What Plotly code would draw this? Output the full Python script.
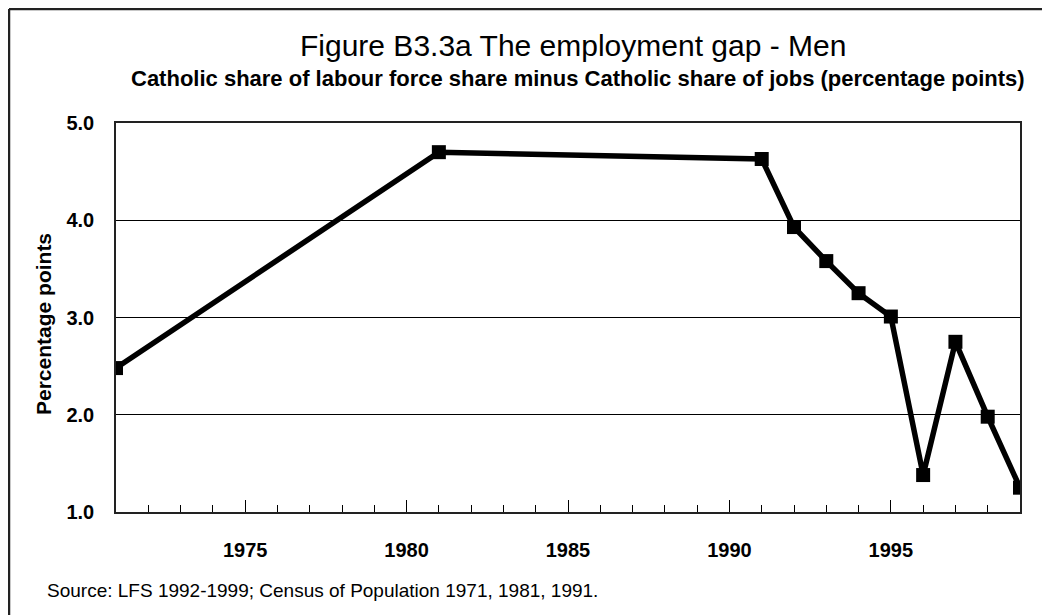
import plotly.graph_objects as go

years = [1971, 1981, 1991, 1992, 1993, 1994, 1995, 1996, 1997, 1998, 1999]
gap = [2.48, 4.70, 4.63, 3.93, 3.58, 3.25, 3.01, 1.38, 2.75, 1.98, 1.25]
y_ticks = [1.0, 2.0, 3.0, 4.0, 5.0]
x_ticks = [1975, 1980, 1985, 1990, 1995]

title = "Figure B3.3a The employment gap - Men"
subtitle = "Catholic share of labour force share minus Catholic share of jobs (percentage points)"
y_title = "Percentage points"
source = "Source: LFS 1992-1999; Census of Population 1971, 1981, 1991."

FONT = "Liberation Sans, Arial, sans-serif"
OFF = 8  # page body margin
W, H = 1042, 607
# plot area in page coordinates: x 116..1020, y 123..512
L, T = 116 - OFF, 123 - OFF
R = W - (1020 - OFF)
B = H - (512 - OFF)
PW, PH = W - L - R, H - T - B


def px(x):
    return (x - OFF - L) / PW


def py(y):
    return (H - B - (y - OFF)) / PH


fig = go.Figure()
fig.add_trace(go.Scatter(
    x=years, y=gap, mode="lines+markers",
    line=dict(color="black", width=5.5),
    marker=dict(symbol="square", size=14, color="black"),
    showlegend=False, hoverinfo="x+y",
))

fig.update_layout(
    width=W, height=H,
    margin=dict(l=L, r=R, t=T, b=B),
    paper_bgcolor="white", plot_bgcolor="white",
    font=dict(family=FONT, color="black"),
    xaxis=dict(
        range=[1971, 1999], tickmode="array", tickvals=x_ticks,
        ticks="inside", ticklen=12, tickwidth=1, tickcolor="black",
        minor=dict(dtick=1, tick0=1971, ticks="inside", ticklen=7, tickcolor="black", tickwidth=1, showgrid=False),
        showgrid=False, zeroline=False,
        showline=True, linecolor="#222", linewidth=1.5, mirror=True,
        tickfont=dict(family=FONT, size=20, color="black", weight="bold"),
        ticklabelstandoff=19,
    ),
    yaxis=dict(
        range=[1, 5], tickmode="array", tickvals=y_ticks, tickformat=".1f",
        ticks="", showgrid=True, gridcolor="black", gridwidth=1,
        zeroline=False,
        showline=True, linecolor="#222", linewidth=1.5, mirror=True,
        tickfont=dict(family=FONT, size=20, color="black", weight="bold"),
        ticklabelstandoff=16,
    ),
    annotations=[
        dict(text=title, x=px(573), y=py(45), xref="paper", yref="paper",
             showarrow=False, xanchor="center", yanchor="middle",
             font=dict(family=FONT, size=30, color="black")),
        dict(text="<b>" + subtitle + "</b>", x=px(578), y=py(78), xref="paper", yref="paper",
             showarrow=False, xanchor="center", yanchor="middle",
             font=dict(family=FONT, size=22, color="black")),
        dict(text="<b>" + y_title + "</b>", x=px(43), y=py(324), xref="paper", yref="paper",
             showarrow=False, xanchor="center", yanchor="middle", textangle=-90,
             font=dict(family=FONT, size=21, color="black")),
        dict(text=source, x=px(45), y=py(590), xref="paper", yref="paper",
             showarrow=False, xanchor="left", yanchor="middle",
             font=dict(family=FONT, size=19, color="black")),
    ],
    shapes=[
        dict(type="line", xref="paper", yref="paper", x0=px(9), x1=px(1060), y0=py(9), y1=py(9),
             line=dict(color="#222", width=2.5)),
        dict(type="line", xref="paper", yref="paper", x0=px(9), x1=px(9), y0=py(9), y1=py(620),
             line=dict(color="#222", width=2.5)),
    ],
)

fig.write_html("out.html")
